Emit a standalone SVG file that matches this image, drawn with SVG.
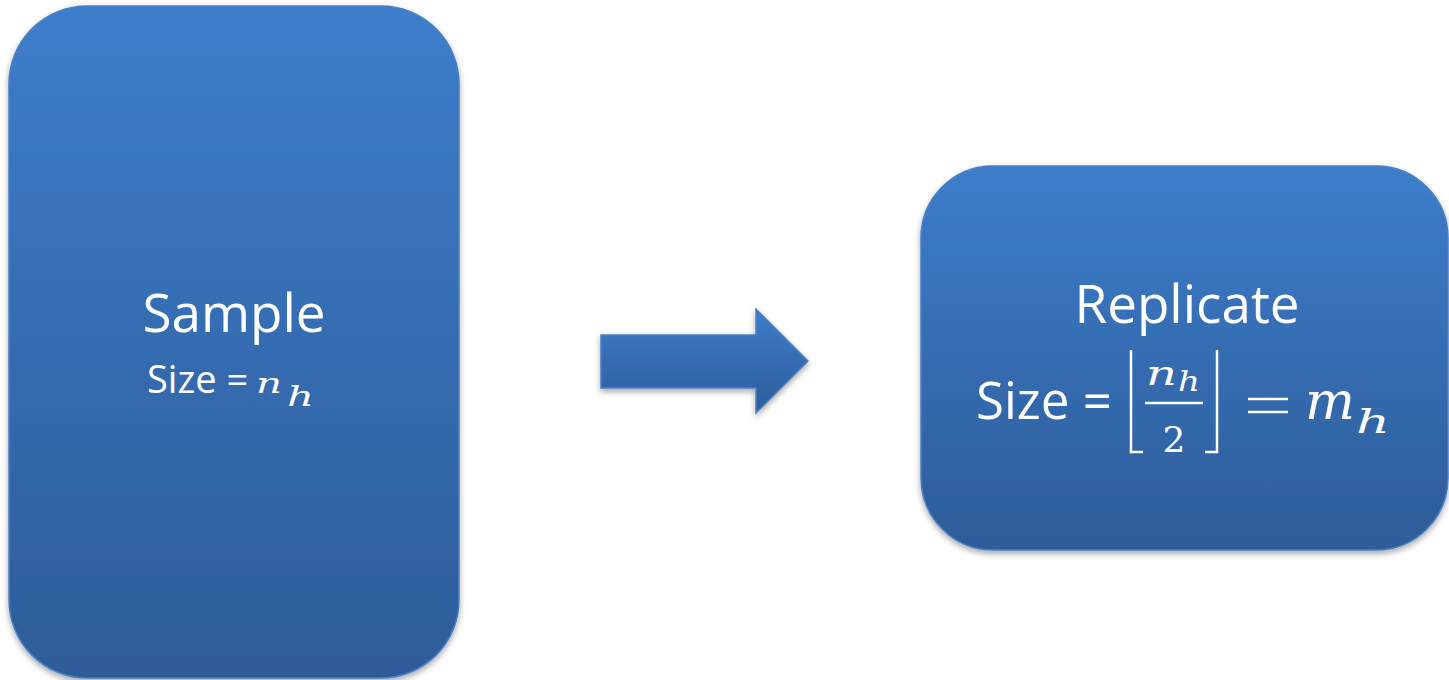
<svg xmlns="http://www.w3.org/2000/svg" width="1449" height="680" viewBox="0 0 1449 680">
  <defs>
    <linearGradient id="blueFill" x1="0" y1="0" x2="0" y2="1">
      <stop offset="0" stop-color="#3d7dcb"/>
      <stop offset="1" stop-color="#2d5c98"/>
    </linearGradient>
    <filter id="dropShadow" x="-10%" y="-10%" width="120%" height="120%">
      <feGaussianBlur in="SourceAlpha" stdDeviation="3"/>
      <feOffset dx="0" dy="3" result="blur"/>
      <feComponentTransfer><feFuncA type="linear" slope="0.35"/></feComponentTransfer>
      <feMerge><feMergeNode/><feMergeNode in="SourceGraphic"/></feMerge>
    </filter>
  </defs>
  <style>
    .box { fill: url(#blueFill); stroke: #4a80c4; stroke-width: 1.5; filter: url(#dropShadow); }
    .label { fill: #ffffff; font-family: "Open Sans", "Liberation Sans", sans-serif; }
    .math { fill: #ffffff; font-family: "DejaVu Serif", "Liberation Serif", serif; font-style: italic; }
    .upright { fill: #ffffff; font-family: "DejaVu Serif", "Liberation Serif", serif; }
    .rule { stroke: #ffffff; stroke-width: 2.5; fill: none; }
  </style>

  <rect width="1449" height="680" fill="#ffffff"/>

  <!-- sample block -->
  <g id="sample">
    <rect class="box" x="9" y="6" width="450" height="672" rx="78" ry="78"/>
    <text class="label" x="234" y="332" font-size="53" text-anchor="middle">Sample</text>
    <text class="label" x="147" y="393" font-size="38">Size =</text>
    <text class="math" x="256" y="393" font-size="28" textLength="26" lengthAdjust="spacingAndGlyphs">n</text>
    <text class="math" x="287" y="406" font-size="27" textLength="27" lengthAdjust="spacingAndGlyphs">h</text>
  </g>

  <!-- connector -->
  <g id="connectors">
    <path class="box" d="M601,335 L756,335 L756,309 L808,361 L756,413 L756,388 L601,388 Z"/>
  </g>

  <!-- replicate block -->
  <g id="replicate">
    <rect class="box" x="921" y="166" width="527" height="384" rx="72" ry="72"/>
    <text class="label" x="1187" y="323" font-size="53" text-anchor="middle">Replicate</text>
    <text class="label" x="976" y="419" font-size="51">Size =</text>
    <!-- floor brackets around n_h / 2 -->
    <polyline class="rule" points="1131,350 1131,452 1143,452"/>
    <polyline class="rule" points="1205,452 1217,452 1217,350"/>
    <line class="rule" x1="1145" y1="403" x2="1203" y2="403" stroke-width="2"/>
    <text class="math" x="1146" y="385" font-size="34" textLength="31" lengthAdjust="spacingAndGlyphs">n</text>
    <text class="math" x="1178" y="391" font-size="28" textLength="22" lengthAdjust="spacingAndGlyphs">h</text>
    <text class="upright" x="1174" y="452" font-size="36" text-anchor="middle">2</text>
    <!-- equals sign -->
    <line class="rule" x1="1248" y1="399" x2="1288" y2="399"/>
    <line class="rule" x1="1248" y1="412" x2="1288" y2="412"/>
    <text class="math" x="1305" y="419" font-size="52" textLength="50" lengthAdjust="spacingAndGlyphs">m</text>
    <text class="math" x="1356" y="433" font-size="34" textLength="34" lengthAdjust="spacingAndGlyphs">h</text>
  </g>
</svg>
